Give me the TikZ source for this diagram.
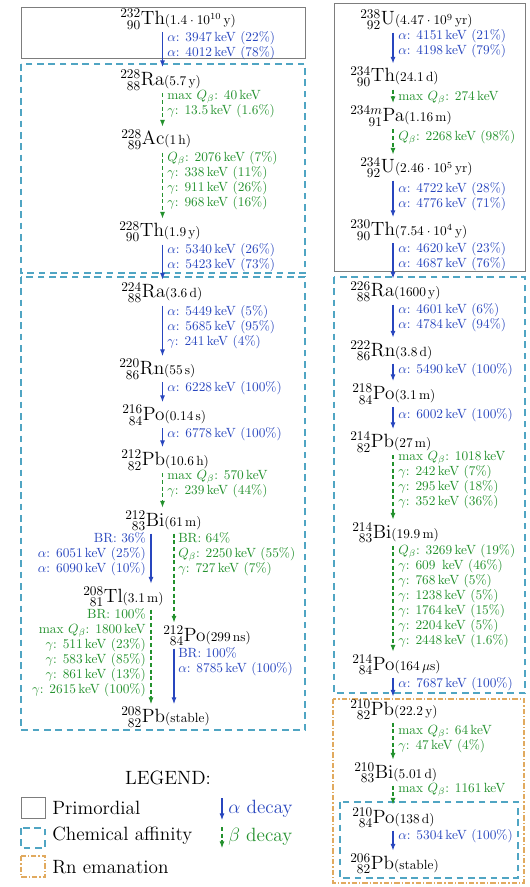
\documentclass[tikz,border=0pt]{standalone}
\usetikzlibrary{arrows.meta}
\definecolor{acol}{RGB}{40,70,190}
\definecolor{bcol}{RGB}{35,145,45}
\definecolor{chemcol}{RGB}{80,165,195}
\definecolor{rncol}{RGB}{225,170,95}
\definecolor{primcol}{RGB}{125,125,125}
\newcommand\nucl[3]{%
  \setbox0=\hbox{$\scriptstyle #1$}%
  \setbox2=\hbox{$\scriptstyle #2$}%
  \ifdim\wd0>\wd2 \dimen0=\wd0 \else \dimen0=\wd2 \fi
  ${}^{\hbox to\dimen0{\hss\box0}}_{\hbox to\dimen0{\hss\box2}}\mathrm{#3}$}
\newcommand\hl[1]{{\normalsize #1}}
\tikzset{
  nuc/.style={anchor=base west, inner xsep=0pt, inner ysep=2pt, font=\Large},
  lab/.style={anchor=north west, inner sep=0pt, align=left, font=\fontsize{10}{11.3}\selectfont},
  rlab/.style={anchor=north east, inner sep=0pt, align=right, font=\fontsize{10}{11.3}\selectfont},
  alab/.style={lab, text=acol}, blab/.style={lab, text=bcol},
  ralab/.style={rlab, text=acol}, rblab/.style={rlab, text=bcol},
  aarr/.style={acol, line width=0.8pt, -{Latex[length=5pt,width=3.8pt]}},
  barr/.style={bcol, line width=0.8pt, dash pattern=on 3pt off 2pt, -{Latex[length=5pt,width=3.8pt]}},
  primbox/.style={draw=primcol, line width=0.7pt},
  chembox/.style={draw=chemcol, line width=0.8pt, dash pattern=on 5pt off 3.5pt},
  rnbox/.style={draw=rncol, line width=0.8pt, dash pattern=on 4pt off 1.5pt on 1pt off 1.5pt},
  legtxt/.style={anchor=west, inner sep=0pt, font=\Large}
}
\begin{document}
\begin{tikzpicture}[x=0.75pt,y=-0.75pt]
\useasboundingbox (0,0) rectangle (529,887);
% boxes
\draw[primbox] (21,7) rectangle (305,58);
\draw[chembox] (21,64) rectangle (305,273);
\draw[chembox] (21,277) rectangle (305,730);
\draw[primbox] (334,3) rectangle (525,271);
\draw[chembox] (334,277) rectangle (525,693);
\draw[rnbox] (333,699) rectangle (524,883);
\draw[chembox] (340,802) rectangle (518,878);
% columns
\coordinate (cL) at (162.5,0);
\coordinate (cA) at (151,0);
\coordinate (cB) at (174,0);
\coordinate (cR) at (393,0);
% left chain nuclides
\node[nuc] (Th232) at (120,24.5) {\nucl{232}{90}{Th}\hl{$(1.4\cdot10^{10}\,\mathrm{y})$}};
\node[nuc] (Ra228) at (120,85.5) {\nucl{228}{88}{Ra}\hl{$(5.7\,\mathrm{y})$}};
\node[nuc] (Ac228) at (121,145) {\nucl{228}{89}{Ac}\hl{$(1\,\mathrm{h})$}};
\node[nuc] (Th228) at (119,237) {\nucl{228}{90}{Th}\hl{$(1.9\,\mathrm{y})$}};
\node[nuc] (Ra224) at (121,298) {\nucl{224}{88}{Ra}\hl{$(3.6\,\mathrm{d})$}};
\node[nuc] (Rn220) at (119,374.5) {\nucl{220}{86}{Rn}\hl{$(55\,\mathrm{s})$}};
\node[nuc] (Po216) at (122,420.5) {\nucl{216}{84}{Po}\hl{$(0.14\,\mathrm{s})$}};
\node[nuc] (Pb212) at (121,465.5) {\nucl{212}{82}{Pb}\hl{$(10.6\,\mathrm{h})$}};
\node[nuc] (Bi212) at (125,526) {\nucl{212}{83}{Bi}\hl{$(61\,\mathrm{m})$}};
\node[nuc] (Tl208) at (83,602) {\nucl{208}{81}{Tl}\hl{$(3.1\,\mathrm{m})$}};
\node[nuc] (Po212) at (163,641) {\nucl{212}{84}{Po}\hl{$(299\,\mathrm{ns})$}};
\node[nuc] (Pb208) at (121,722.5) {\nucl{208}{82}{Pb}\hl{(stable)}};
% right chain nuclides
\node[nuc] (U238) at (360,25) {\nucl{238}{92}{U}\hl{$(4.47\cdot10^{9}\,\mathrm{yr})$}};
\node[nuc] (Th234) at (350,82) {\nucl{234}{90}{Th}\hl{$(24.1\,\mathrm{d})$}};
\node[nuc] (Pa234) at (350,121.5) {\nucl{234m}{91}{Pa}\hl{$(1.16\,\mathrm{m})$}};
\node[nuc] (U234) at (360,173) {\nucl{234}{92}{U}\hl{$(2.46\cdot10^{5}\,\mathrm{yr})$}};
\node[nuc] (Th230) at (350,235.5) {\nucl{230}{90}{Th}\hl{$(7.54\cdot10^{4}\,\mathrm{y})$}};
\node[nuc] (Ra226) at (350,297) {\nucl{226}{88}{Ra}\hl{$(1600\,\mathrm{y})$}};
\node[nuc] (Rn222) at (350,356) {\nucl{222}{86}{Rn}\hl{$(3.8\,\mathrm{d})$}};
\node[nuc] (Po218) at (352,399.5) {\nucl{218}{84}{Po}\hl{$(3.1\,\mathrm{m})$}};
\node[nuc] (Pb214) at (350,447.5) {\nucl{214}{82}{Pb}\hl{$(27\,\mathrm{m})$}};
\node[nuc] (Bi214) at (352,538) {\nucl{214}{83}{Bi}\hl{$(19.9\,\mathrm{m})$}};
\node[nuc] (Po214) at (352,670) {\nucl{214}{84}{Po}\hl{$(164\,\mu\mathrm{s})$}};
\node[nuc] (Pb210) at (350,715) {\nucl{210}{82}{Pb}\hl{$(22.2\,\mathrm{y})$}};
\node[nuc] (Bi210) at (354,778) {\nucl{210}{83}{Bi}\hl{$(5.01\,\mathrm{d})$}};
\node[nuc] (Po210) at (352,823) {\nucl{210}{84}{Po}\hl{$(138\,\mathrm{d})$}};
\node[nuc] (Pb206) at (350,869) {\nucl{206}{82}{Pb}\hl{(stable)}};
% left labels
\node[alab] (l1) at (167,31) {$\alpha$: 3947\,keV (22\%)\\$\alpha$: 4012\,keV (78\%)};
\node[blab] (l2) at (167,90) {max $Q_\beta$: 40\,keV\\$\gamma$: 13.5\,keV (1.6\%)};
\node[blab] (l3) at (167,151) {$Q_\beta$: 2076\,keV (7\%)\\$\gamma$: 338\,keV (11\%)\\$\gamma$: 911\,keV (26\%)\\$\gamma$: 968\,keV (16\%)};
\node[alab] (l4) at (167,243) {$\alpha$: 5340\,keV (26\%)\\$\alpha$: 5423\,keV (73\%)};
\node[alab] (l5) at (167,305) {$\alpha$: 5449\,keV (5\%)\\$\alpha$: 5685\,keV (95\%)\\$\gamma$: 241\,keV (4\%)};
\node[alab] (l6) at (167,381) {$\alpha$: 6228\,keV (100\%)};
\node[alab] (l7) at (167,427) {$\alpha$: 6778\,keV (100\%)};
\node[blab] (l8) at (167,470) {max $Q_\beta$: 570\,keV\\$\gamma$: 239\,keV (44\%)};
\node[ralab] (l9) at (146,532) {BR: 36\%\\$\alpha$: 6051\,keV (25\%)\\$\alpha$: 6090\,keV (10\%)};
\node[blab] (l10) at (178,532) {BR: 64\%\\$Q_\beta$: 2250\,keV (55\%)\\$\gamma$: 727\,keV (7\%)};
\node[rblab] (l11) at (146,608) {BR: 100\%\\max $Q_\beta$: 1800\,keV\\$\gamma$: 511\,keV (23\%)\\$\gamma$: 583\,keV (85\%)\\$\gamma$: 861\,keV (13\%)\\$\gamma$: 2615\,keV (100\%)};
\node[alab] (l12) at (178,647) {BR: 100\%\\$\alpha$: 8785\,keV (100\%)};
% right labels
\node[alab] (r1) at (398,29) {$\alpha$: 4151\,keV (21\%)\\$\alpha$: 4198\,keV (79\%)};
\node[blab] (r2) at (398,91) {max $Q_\beta$: 274\,keV};
\node[blab] (r3) at (398,130) {$Q_\beta$: 2268\,keV (98\%)};
\node[alab] (r4) at (398,182) {$\alpha$: 4722\,keV (28\%)\\$\alpha$: 4776\,keV (71\%)};
\node[alab] (r5) at (398,242) {$\alpha$: 4620\,keV (23\%)\\$\alpha$: 4687\,keV (76\%)};
\node[alab] (r6) at (398,303) {$\alpha$: 4601\,keV (6\%)\\$\alpha$: 4784\,keV (94\%)};
\node[alab] (r7) at (398,363) {$\alpha$: 5490\,keV (100\%)};
\node[alab] (r8) at (398,408) {$\alpha$: 6002\,keV (100\%)};
\node[blab] (r9) at (398,451) {max $Q_\beta$: 1018\,keV\\$\gamma$: 242\,keV (7\%)\\$\gamma$: 295\,keV (18\%)\\$\gamma$: 352\,keV (36\%)};
\node[blab] (r10) at (398,544) {$Q_\beta$: 3269\,keV (19\%)\\$\gamma$: 609\ \,keV (46\%)\\$\gamma$: 768\,keV (5\%)\\$\gamma$: 1238\,keV (5\%)\\$\gamma$: 1764\,keV (15\%)\\$\gamma$: 2204\,keV (5\%)\\$\gamma$: 2448\,keV (1.6\%)};
\node[alab] (r11) at (398,677) {$\alpha$: 7687\,keV (100\%)};
\node[blab] (r12) at (398,725) {max $Q_\beta$: 64\,keV\\$\gamma$: 47\,keV (4\%)};
\node[blab] (r13) at (398,783) {max $Q_\beta$: 1161\,keV};
\node[alab] (r14) at (398,829) {$\alpha$: 5304\,keV (100\%)};
% left arrows
\draw[aarr] (Th232.south -| cL) -- (Ra228.north -| cL);
\draw[barr] (Ra228.south -| cL) -- (Ac228.north -| cL);
\draw[barr] (Ac228.south -| cL) -- (Th228.north -| cL);
\draw[aarr] (Th228.south -| cL) -- (Ra224.north -| cL);
\draw[aarr] (Ra224.south -| cL) -- (Rn220.north -| cL);
\draw[aarr] (Rn220.south -| cL) -- (Po216.north -| cL);
\draw[aarr] (Po216.south -| cL) -- (Pb212.north -| cL);
\draw[barr] (Pb212.south -| cL) -- (Bi212.north -| cL);
\draw[aarr] (Bi212.south -| cA) -- (Tl208.north -| cA);
\draw[barr] (Bi212.south -| cB) -- (Po212.north -| cB);
\draw[barr] (Tl208.south -| cA) -- (Pb208.north -| cA);
\draw[aarr] (Po212.south -| cB) -- (Pb208.north -| cB);
% right arrows
\draw[aarr] (U238.south -| cR) -- (Th234.north -| cR);
\draw[barr] (Th234.south -| cR) -- (Pa234.north -| cR);
\draw[barr] (Pa234.south -| cR) -- (U234.north -| cR);
\draw[aarr] (U234.south -| cR) -- (Th230.north -| cR);
\draw[aarr] (Th230.south -| cR) -- (Ra226.north -| cR);
\draw[aarr] (Ra226.south -| cR) -- (Rn222.north -| cR);
\draw[aarr] (Rn222.south -| cR) -- (Po218.north -| cR);
\draw[aarr] (Po218.south -| cR) -- (Pb214.north -| cR);
\draw[barr] (Pb214.south -| cR) -- (Bi214.north -| cR);
\draw[barr] (Bi214.south -| cR) -- (Po214.north -| cR);
\draw[aarr] (Po214.south -| cR) -- (Pb210.north -| cR);
\draw[barr] (Pb210.south -| cR) -- (Bi210.north -| cR);
\draw[barr] (Bi210.south -| cR) -- (Po210.north -| cR);
\draw[aarr] (Po210.south -| cR) -- (Pb206.north -| cR);
% legend
\node[inner sep=0pt, font=\Large] (leg) at (168,778) {LEGEND:};
\draw[primbox] (21,797) rectangle (45,818);
\draw[chembox] (21,828) rectangle (45,848);
\draw[rnbox] (21,856) rectangle (45,877);
\node[legtxt] (lp) at (52,808) {Primordial};
\node[legtxt] (lc) at (52,836) {Chemical affinity};
\node[legtxt] (lr) at (52,867) {Rn emanation};
\coordinate (la1) at (222,798);
\coordinate (la2) at (222,820);
\coordinate (lb1) at (222,827);
\coordinate (lb2) at (222,848);
\draw[aarr] (la1) -- (la2);
\draw[barr] (lb1) -- (lb2);
\node[legtxt, text=acol] (lat) at (228,809) {$\alpha$ decay};
\node[legtxt, text=bcol] (lbt) at (228,837) {$\beta$ decay};
\end{tikzpicture}
\end{document}
